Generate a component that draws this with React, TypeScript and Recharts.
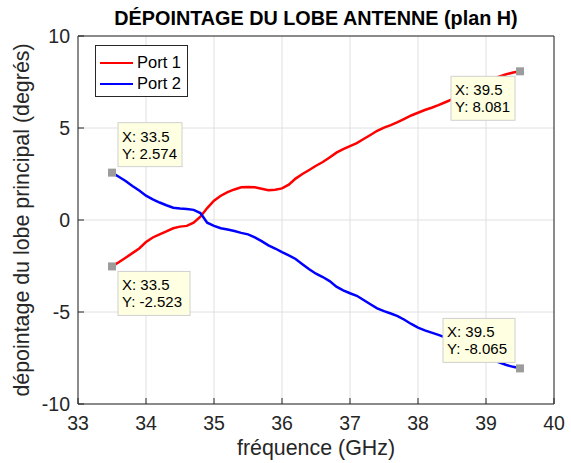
import { LineChart, Line, XAxis, YAxis, CartesianGrid, ReferenceDot, Legend } from 'recharts';

const freq = [
  33.5, 33.6, 33.7, 33.8, 33.9, 34.0, 34.1, 34.2, 34.3, 34.4,
  34.5, 34.6, 34.7, 34.8, 34.9, 35.0, 35.1, 35.2, 35.3, 35.4,
  35.5, 35.6, 35.7, 35.8, 35.9, 36.0, 36.1, 36.2, 36.3, 36.4,
  36.5, 36.6, 36.7, 36.8, 36.9, 37.0, 37.1, 37.2, 37.3, 37.4,
  37.5, 37.6, 37.7, 37.8, 37.9, 38.0, 38.1, 38.2, 38.3, 38.4,
  38.5, 38.6, 38.7, 38.8, 38.9, 39.0, 39.1, 39.2, 39.3, 39.4,
  39.5,
];

const port1 = [
  -2.523, -2.30, -2.05, -1.80, -1.55, -1.20, -0.95, -0.78, -0.62, -0.45,
  -0.36, -0.32, -0.15, 0.18, 0.65, 1.05, 1.32, 1.52, 1.66, 1.78,
  1.80, 1.78, 1.70, 1.62, 1.64, 1.72, 1.92, 2.25, 2.50, 2.72,
  2.95, 3.15, 3.40, 3.66, 3.85, 4.02, 4.18, 4.40, 4.62, 4.85,
  5.02, 5.16, 5.32, 5.50, 5.68, 5.83, 5.98, 6.10, 6.24, 6.40,
  6.56, 6.75, 6.95, 7.12, 7.30, 7.50, 7.66, 7.80, 7.92, 8.02,
  8.081,
];

const port2 = [
  2.574, 2.35, 2.12, 1.85, 1.60, 1.32, 1.12, 0.95, 0.80, 0.67,
  0.63, 0.60, 0.55, 0.38, -0.15, -0.32, -0.45, -0.52, -0.60, -0.70,
  -0.78, -0.95, -1.15, -1.38, -1.55, -1.75, -1.92, -2.12, -2.40, -2.68,
  -2.92, -3.10, -3.32, -3.62, -3.82, -3.98, -4.12, -4.35, -4.58, -4.80,
  -4.95, -5.08, -5.22, -5.42, -5.65, -5.85, -6.00, -6.12, -6.24, -6.38,
  -6.55, -6.72, -6.88, -7.05, -7.25, -7.45, -7.60, -7.75, -7.88, -7.98,
  -8.065,
];

const xTicks = [33, 34, 35, 36, 37, 38, 39, 40];
const yTicks = [-10, -5, 0, 5, 10];
const seriesNames = ['Port 1', 'Port 2'];
const seriesColors = ['#ff0000', '#0000ff'];

const title = 'DÉPOINTAGE DU LOBE ANTENNE (plan H)';
const xLabel = 'fréquence (GHz)';
const yLabel = 'dépointage du lobe principal (degrés)';

const font = '"Liberation Sans", Arial, Helvetica, sans-serif';
const axisColor = '#262626';

const data = freq.map((f, i) => ({ f, p1: port1[i], p2: port2[i] }));

const last = freq.length - 1;
// data tips on the end points, side = where the box sits relative to the marker
const tips = [
  { x: freq[0], y: port2[0], side: 'ne' },
  { x: freq[0], y: port1[0], side: 'se' },
  { x: freq[last], y: port1[last], side: 'sw' },
  { x: freq[last], y: port2[last], side: 'nw' },
];

function DataTip({ cx, cy, fx, fy, side }: any) {
  const l1 = `X: ${fx}`;
  const l2 = `Y: ${fy}`;
  const w = Math.round(Math.max(l1.length, l2.length) * 7.8 + 2);
  const h = 44;
  const right = side === 'ne' || side === 'se';
  const up = side === 'ne' || side === 'nw';
  const bx = right ? cx + 6 : cx - 5 - w;
  const by = up ? cy - 6 - h : cy + 5;
  return (
    <g>
      <rect x={bx} y={by} width={w} height={h} fill="#ffffe1" stroke="#d0d0d0" />
      <text x={bx + 4} y={by + 19} fontSize={15} fontFamily={font} fill="#000">{l1}</text>
      <text x={bx + 4} y={by + 36} fontSize={15} fontFamily={font} fill="#000">{l2}</text>
      <rect x={cx - 4} y={cy - 4} width={8} height={8} fill="#9c9c9c" />
    </g>
  );
}

function LegendBox() {
  return (
    <div
      style={{
        width: 93,
        height: 52,
        boxSizing: 'border-box',
        border: `1px solid ${axisColor}`,
        background: '#fff',
        paddingTop: 6,
        fontFamily: font,
        fontSize: 16.5,
        color: '#000',
      }}
    >
      {seriesNames.map((n, i) => (
        <div key={n} style={{ display: 'flex', alignItems: 'center', height: 21 }}>
          <div style={{ width: 33, height: 2, background: seriesColors[i], marginLeft: 4, marginRight: 4 }} />
          <span>{n}</span>
        </div>
      ))}
    </div>
  );
}

export default function App() {
  const tick = { fill: axisColor, fontSize: 19.5, fontFamily: font };
  return (
    <div style={{ position: 'absolute', left: 0, top: 0, width: 571, height: 463, background: '#fff' }}>
      <LineChart width={571} height={463} data={data} margin={{ top: 0, right: 0, left: 0, bottom: 0 }}>
        <CartesianGrid stroke="#e0e0e0" />
        <XAxis
          dataKey="f"
          type="number"
          domain={[33, 40]}
          ticks={xTicks}
          interval={0}
          height={59}
          tick={tick}
          tickSize={-6}
          tickMargin={18}
          stroke={axisColor}
          label={{
            content: ({ viewBox }: any) => (
              <text x={viewBox.x + viewBox.width / 2} y={455} textAnchor="middle" fontSize={21.4} fontFamily={font} fill={axisColor}>
                {xLabel}
              </text>
            ),
          }}
        />
        <XAxis
          xAxisId="top"
          orientation="top"
          dataKey="f"
          type="number"
          domain={[33, 40]}
          ticks={xTicks}
          interval={0}
          height={36}
          tick={false}
          tickSize={-6}
          stroke={axisColor}
          label={{
            content: ({ viewBox }: any) => (
              <text x={viewBox.x + viewBox.width / 2} y={25} textAnchor="middle" fontSize={19.8} fontWeight="bold" fontFamily={font} fill="#000">
                {title}
              </text>
            ),
          }}
        />
        <YAxis
          type="number"
          domain={[-10, 10]}
          ticks={yTicks}
          interval={0}
          width={78}
          tick={tick}
          tickSize={-6}
          tickMargin={14}
          stroke={axisColor}
          label={{
            content: ({ viewBox }: any) => (
              <text
                transform={`translate(29, ${viewBox.y + viewBox.height / 2}) rotate(-90)`}
                textAnchor="middle"
                fontSize={21.4}
                fontFamily={font}
                fill={axisColor}
              >
                {yLabel}
              </text>
            ),
          }}
        />
        <YAxis
          yAxisId="right"
          orientation="right"
          type="number"
          domain={[-10, 10]}
          ticks={yTicks}
          interval={0}
          width={17}
          tick={false}
          tickSize={-6}
          stroke={axisColor}
        />
        <Line dataKey="p1" name={seriesNames[0]} stroke={seriesColors[0]} strokeWidth={2.5} dot={false} type="linear" isAnimationActive={false} />
        <Line dataKey="p2" name={seriesNames[1]} stroke={seriesColors[1]} strokeWidth={2.5} dot={false} type="linear" isAnimationActive={false} />
        {tips.map((t) => (
          <ReferenceDot
            key={t.side}
            x={t.x}
            y={t.y}
            r={4}
            shape={(p: any) => <DataTip cx={p.cx} cy={p.cy} fx={t.x} fy={t.y} side={t.side} />}
          />
        ))}
        <Legend
          layout="vertical"
          align="center"
          verticalAlign="middle"
          content={() => <LegendBox />}
          wrapperStyle={{ left: 95, top: 45, width: 93, height: 52 }}
        />
      </LineChart>
    </div>
  );
}
